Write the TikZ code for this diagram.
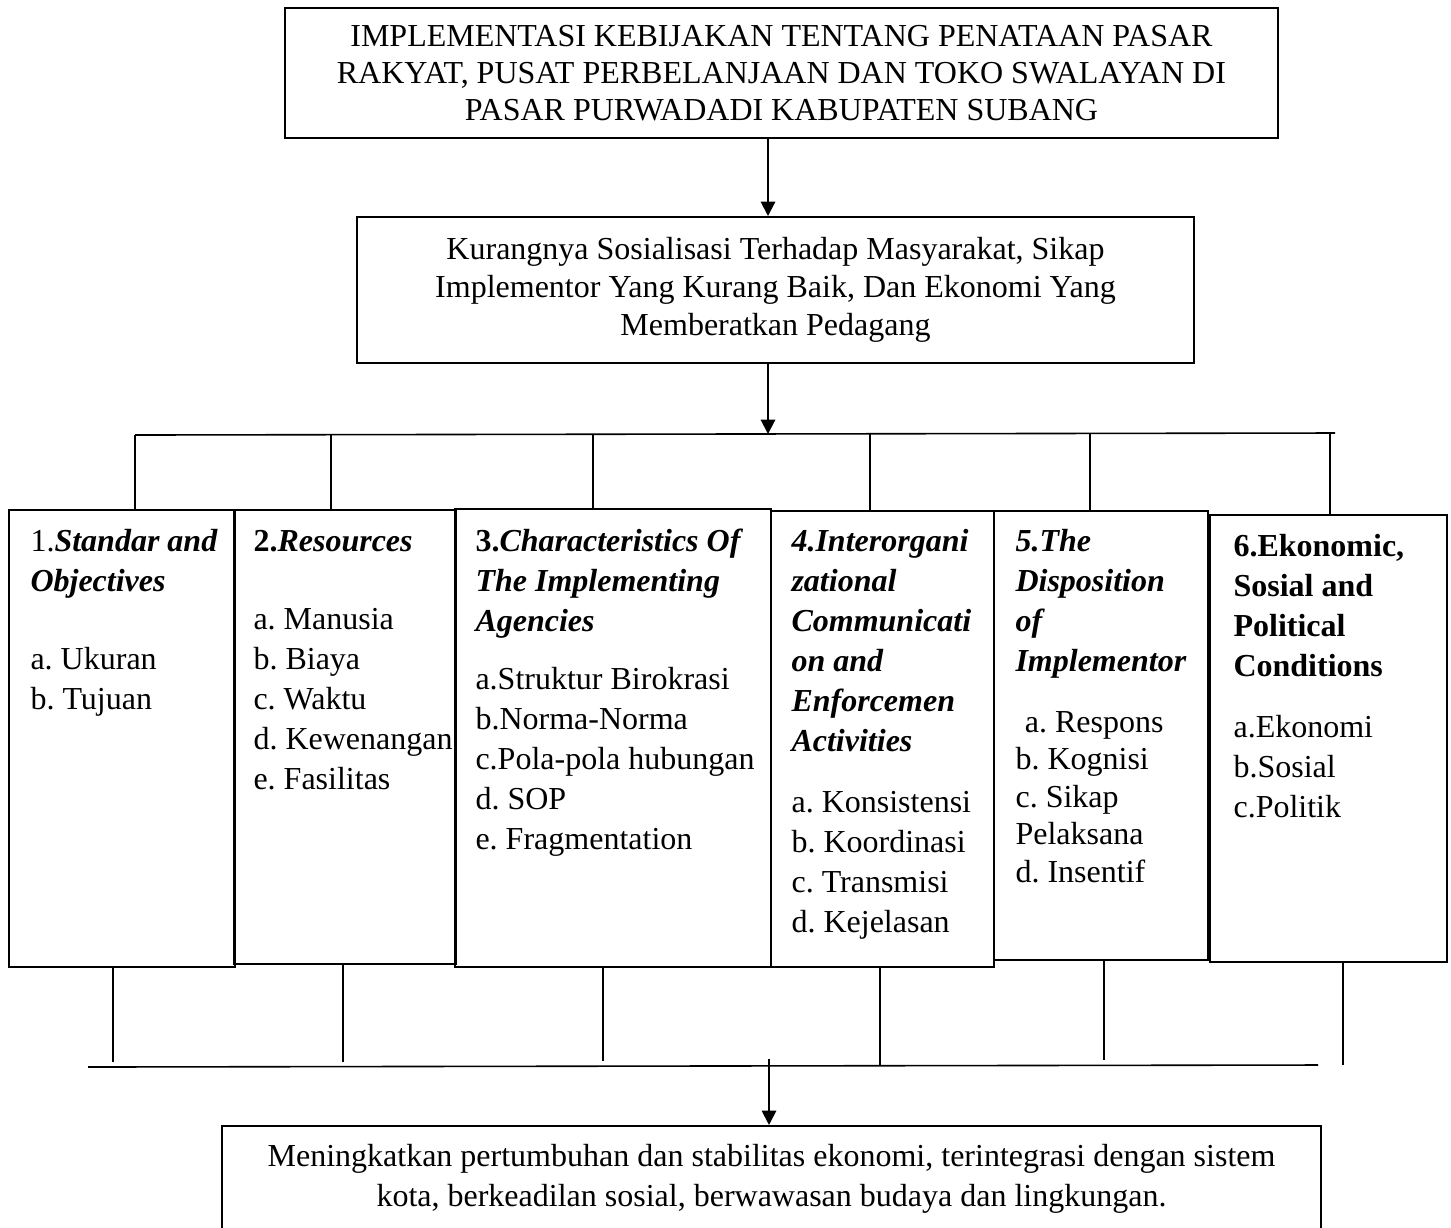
\documentclass[tikz,border=0pt]{standalone}
\usepackage{fontspec}
\setmainfont{Liberation Serif}
\frenchspacing
\usetikzlibrary{positioning, arrows.meta, calc}

\begin{document}
\begin{tikzpicture}[
    x=0.375pt, y=-0.375pt,
    every node/.style={font=\fontsize{12}{15}\selectfont},
    tbox/.style={draw, line width=0.75pt, inner sep=0pt, align=center},
    cbox/.style={draw, line width=0.75pt, inner sep=0pt},
    ctext/.style={anchor=base west, inner sep=0pt, text width=130pt, align=flush left},
    link/.style={line width=0.6pt},
    drop/.style={line width=0.6pt, shorten >=2pt},
    arr/.style={line width=0.75pt, -{Triangle[width=5.4pt, length=5.4pt]}},
]
\useasboundingbox (0,0) rectangle (1451,1227);
\clip (0,0) rectangle (1451,1227);

\node[tbox, minimum width=372.4pt, minimum height=48.75pt, font=\fontsize{12}{13.9}\selectfont] (top) at (781.5,73)
    {IMPLEMENTASI KEBIJAKAN TENTANG PENATAAN PASAR\\ RAKYAT, PUSAT PERBELANJAAN DAN TOKO SWALAYAN DI\\ PASAR PURWADADI KABUPATEN SUBANG};
\node[tbox, minimum width=313.9pt, minimum height=54.75pt, font=\fontsize{12}{14.25}\selectfont] (mid) at (775.5,290)
    {Kurangnya Sosialisasi Terhadap Masyarakat, Sikap\\ Implementor Yang Kurang Baik, Dan Ekonomi Yang\\ Memberatkan Pedagang};

\node[cbox, minimum width=84.75pt, minimum height=171.4pt] (b1) at (122,738.5) {};
\node[cbox, minimum width=83.25pt, minimum height=170.25pt] (b2) at (345,737) {};
\node[cbox, minimum width=118.5pt, minimum height=171.75pt] (b3) at (613,738) {};
\node[cbox, minimum width=83.6pt, minimum height=171pt] (b4) at (882.5,739) {};
\node[cbox, minimum width=80.25pt, minimum height=168.4pt] (b5) at (1101,735.5) {};
\node[cbox, minimum width=88.9pt, minimum height=167.6pt] (b6) at (1328.5,738.5) {};

\node[ctext] (t1) at (30,551) {1.\textbf{\textit{Standar and}}\\ \textbf{\textit{Objectives}}\\[14.6pt]
    a. Ukuran\\ b. Tujuan};
\node[ctext] (t2) at (253,551) {\textbf{2.\textit{Resources}}\\[14.25pt]
    a. Manusia\\ b. Biaya\\ c. Waktu\\ d. Kewenangan\\ e. Fasilitas};
\node[ctext] (t3) at (475,551) {\textbf{3.\textit{Characteristics Of}}\\ \textbf{\textit{The Implementing}}\\ \textbf{\textit{Agencies}}\\[7.1pt]
    a.Struktur Birokrasi\\ b.Norma-Norma\\ c.Pola-pola hubungan\\ d. SOP\\ e. Fragmentation};
\node[ctext] (t4) at (791,551) {\bfseries\itshape 4.Interorgani\\ zational\\ Communicati\\ on and\\ Enforcemen\\ Activities\\[7.9pt]
    \normalfont a. Konsistensi\\ b. Koordinasi\\ c. Transmisi\\ d. Kejelasan};
\node[ctext] (t5) at (1015,551) {\bfseries\itshape 5.The\\ Disposition\\ of\\ Implementor\\[7.9pt]
    \normalfont\hspace*{3.5pt}a. Respons\\[-0.9pt] b. Kognisi\\[-0.9pt] c. Sikap\\[-0.9pt] Pelaksana\\[-0.9pt] d. Insentif};
\node[ctext] (t6) at (1233,556) {\bfseries 6.Ekonomic,\\ Sosial and\\ Political\\ Conditions\\[7.9pt]
    \normalfont a.Ekonomi\\ b.Sosial\\ c.Politik};

\node[tbox, minimum width=412.1pt, minimum height=39.4pt] (bot) at (771.5,1178.5)
    {Meningkatkan pertumbuhan dan stabilitas ekonomi, terintegrasi dengan sistem\\ kota, berkeadilan sosial, berwawasan budaya dan lingkungan.};

\coordinate (jt) at (768,434);
\coordinate (jb) at (769,1059);
\coordinate (tbl) at (135,435);
\coordinate (tbr) at (1335,433);
\coordinate (bbl) at (88,1067);
\coordinate (bbr) at (1318,1065);
\coordinate (t2x) at (331,435);
\coordinate (t3x) at (593,434);
\coordinate (t4x) at (870,434);
\coordinate (t5x) at (1090,433);
\coordinate (t6x) at (1330,433);
\coordinate (d1) at (113,1067);
\coordinate (d2) at (343,1067);
\coordinate (d3) at (603,1066);
\coordinate (d4) at (880,1066);
\coordinate (d5) at (1104,1065);
\coordinate (d6) at (1343,1065);

\draw[arr] (top.south -| jt) -- (mid.north -| jt);
\draw[arr] (mid.south -| jt) -- (jt);
\draw[link] (tbl) -- (tbr);
\draw[link] (tbl) -- (tbl |- b1.north);
\draw[link] (t2x) -- (t2x |- b2.north);
\draw[link] (t3x) -- (t3x |- b3.north);
\draw[link] (t4x) -- (t4x |- b4.north);
\draw[link] (t5x) -- (t5x |- b5.north);
\draw[link] (t6x) -- (t6x |- b6.north);

\draw[drop] (d1 |- b1.south) -- (d1);
\draw[drop] (d2 |- b2.south) -- (d2);
\draw[drop] (d3 |- b3.south) -- (d3);
\draw[link] (d4 |- b4.south) -- (d4);
\draw[drop] (d5 |- b5.south) -- (d5);
\draw[link] (d6 |- b6.south) -- (d6);
\draw[link] (bbl) -- (bbr);
\draw[arr] (jb) -- (bot.north -| jb);

\end{tikzpicture}
\end{document}
